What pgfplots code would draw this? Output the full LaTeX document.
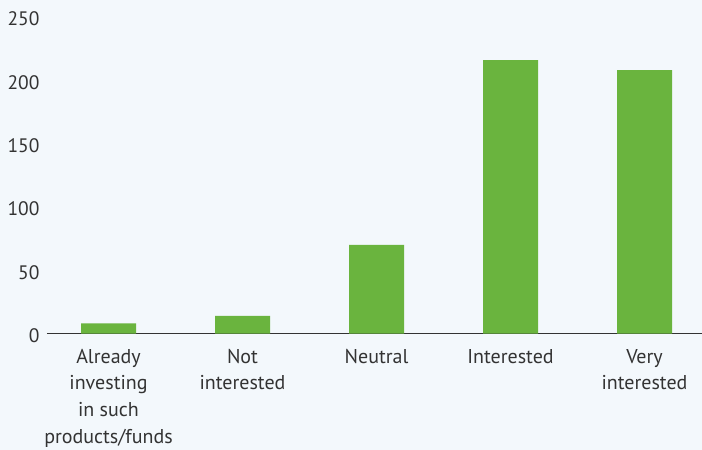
\documentclass[border=0pt]{standalone}
\usepackage{pgfplots}
\pgfplotsset{compat=1.18}
\usepackage{fontspec}
\setmainfont{PT Sans}
\definecolor{bg}{RGB}{243,248,252}
\definecolor{barg}{RGB}{106,180,62}
\definecolor{txt}{RGB}{51,51,51}
\begin{document}
\begin{tikzpicture}[x=1pt,y=1pt]
\fill[bg] (-47,-116.5) rectangle (655,333.5);
\useasboundingbox (-47,-116.5) rectangle (655,333.5);
\begin{axis}[
  at={(0,0)}, anchor=south west,
  scale only axis, width=655pt, height=333.5pt,
  xmin=-0.459, xmax=4.429, ymin=0, ymax=263.4,
  axis x line=bottom, axis y line=left,
  x axis line style={-, line width=1.4pt, draw=txt},
  y axis line style={draw=none},
  xtick=data,
  xticklabels={{Already\\investing\\in such\\products/funds},{Not\\interested},{Neutral},{Interested},{Very\\interested}},
  x tick label style={align=center, font=\fontsize{20}{26.7}\selectfont, text=txt, anchor=north, yshift=-12pt},
  major tick length=0pt,
  ytick={0,50,100,150,200,250},
  yticklabel style={font=\fontsize{19.5}{22}\selectfont, text=txt, anchor=east, xshift=-4pt, yshift=-2pt},
  /pgf/number format/assume math mode=true,
  clip=false,
]
\addplot[ybar, bar width=55pt, fill=barg, draw=none] coordinates {(0,8) (1,14) (2,70) (3,216) (4,208)};
\end{axis}
\end{tikzpicture}
\end{document}
